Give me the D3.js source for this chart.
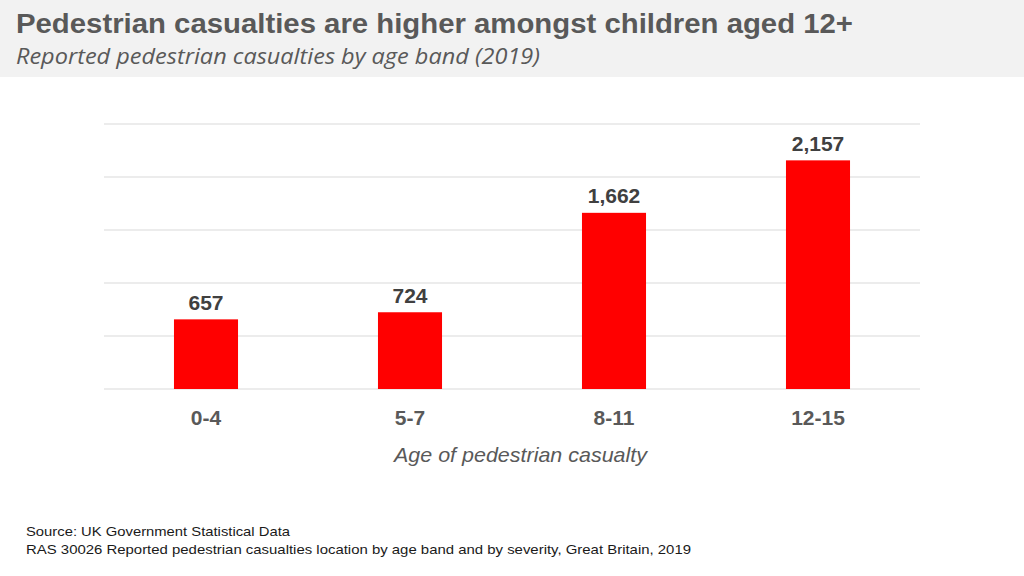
<!DOCTYPE html>
<html>
<head>
<meta charset="utf-8">
<script src="https://cdn.jsdelivr.net/npm/d3@7"></script>
<style>
  body { margin: 0; background: #fff; }
  svg { display: block; }
</style>
</head>
<body>
<div id="chart"></div>
<script>
// data
const categories = ["0-4", "5-7", "8-11", "12-15"];
const casualties = [657, 724, 1662, 2157];
const yTicks = [0, 500, 1000, 1500, 2000, 2500];

const W = 1024, H = 576;
const margin = { top: 124, right: 104, bottom: 187, left: 104 };
const width = W - margin.left - margin.right;
const height = H - margin.top - margin.bottom;

const svg = d3.select("#chart")
    .append("svg")
        .attr("width", W)
        .attr("height", H);

// header band
svg.append("rect")
    .attr("x", 0).attr("y", 0)
    .attr("width", W).attr("height", 77)
    .attr("fill", "#f2f2f2");

svg.append("text")
    .attr("x", 16).attr("y", 33)
    .text("Pedestrian casualties are higher amongst children aged 12+")
    .attr("font-family", "'Liberation Sans', Arial, sans-serif")
    .attr("font-weight", "bold")
    .attr("font-size", 27)
    .attr("textLength", 837)
    .attr("lengthAdjust", "spacingAndGlyphs")
    .attr("fill", "#595959");

svg.append("text")
    .attr("x", 16).attr("y", 64)
    .text("Reported pedestrian casualties by age band (2019)")
    .attr("font-family", "'Open Sans', sans-serif")
    .attr("font-style", "italic")
    .attr("font-size", 22)
    .attr("textLength", 524)
    .attr("lengthAdjust", "spacingAndGlyphs")
    .attr("fill", "#595959");

const g = svg.append("g")
    .attr("transform", "translate(" + margin.left + "," + margin.top + ")");

// scales
const x = d3.scaleBand()
    .domain(categories)
    .range([0, width])
    .paddingInner(0.686)
    .paddingOuter(0.343);

const y = d3.scaleLinear()
    .domain([0, 2500])
    .range([height, 0]);

// gridlines
g.append("g")
    .selectAll("line")
    .data(yTicks)
    .enter()
    .append("line")
        .attr("x1", 0)
        .attr("x2", width)
        .attr("y1", d => y(d))
        .attr("y2", d => y(d))
        .attr("stroke", "#d9d9d9")
        .attr("stroke-width", 1);

// bars
g.append("g")
    .selectAll("rect")
    .data(casualties)
    .enter()
    .append("rect")
        .attr("x", (d, i) => x(categories[i]))
        .attr("y", d => y(d))
        .attr("width", x.bandwidth())
        .attr("height", d => height - y(d))
        .attr("fill", "#ff0000");

// value labels
g.append("g")
    .selectAll("text")
    .data(casualties)
    .enter()
    .append("text")
        .attr("x", (d, i) => x(categories[i]) + x.bandwidth() / 2)
        .attr("y", d => y(d) - 9.5)
        .attr("text-anchor", "middle")
        .text(d => d3.format(",")(d))
        .attr("font-family", "'Liberation Sans', Arial, sans-serif")
        .attr("font-weight", "bold")
        .attr("font-size", 21)
        .attr("fill", "#404040");

// x-axis
const xAxis = g.append("g")
    .attr("transform", "translate(0," + height + ")")
    .call(d3.axisBottom(x).tickSize(0).tickPadding(21));
xAxis.select(".domain").remove();
xAxis.selectAll("text")
    .attr("font-family", "'Liberation Sans', Arial, sans-serif")
    .attr("font-weight", "bold")
    .attr("font-size", 21)
    .attr("fill", "#595959");

// x-axis label
g.append("text")
    .attr("x", 394 - margin.left)
    .attr("y", height + 73)
    .text("Age of pedestrian casualty")
    .attr("font-family", "'Liberation Sans', Arial, sans-serif")
    .attr("font-style", "italic")
    .attr("font-size", 21)
    .attr("textLength", 253)
    .attr("lengthAdjust", "spacingAndGlyphs")
    .attr("fill", "#595959");

// source notes
const notes = [
    "Source: UK Government Statistical Data",
    "RAS 30026 Reported pedestrian casualties location by age band and by severity, Great Britain, 2019"
];
const noteLengths = [264, 665];
svg.append("g")
    .selectAll("text")
    .data(notes)
    .enter()
    .append("text")
        .attr("x", 26)
        .attr("y", (d, i) => 535.5 + i * 18.5)
        .text(d => d)
        .attr("textLength", (d, i) => noteLengths[i])
        .attr("lengthAdjust", "spacingAndGlyphs")
        .attr("font-family", "'Liberation Sans', Arial, sans-serif")
        .attr("font-size", 13.5)
        .attr("fill", "#1a1a1a");
</script>
</body>
</html>
